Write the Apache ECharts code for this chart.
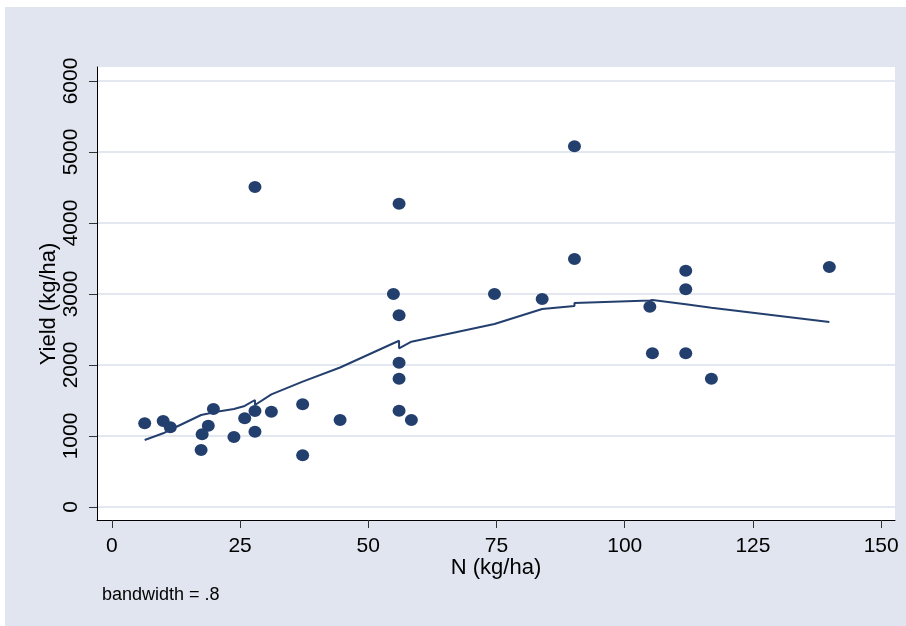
<!DOCTYPE html>
<html>
<head>
<meta charset="utf-8">
<script src="https://cdn.jsdelivr.net/npm/echarts@6/dist/echarts.min.js"></script>
<style>
html, body { margin: 0; padding: 0; background: #fff; }
#chart { width: 906px; height: 626px; }
</style>
</head>
<body>
<div id="chart"></div>
<script>
// observed points: N applied (kg/ha) and yield (kg/ha)
var nApplied = [6.4, 10.0, 11.4, 17.4, 17.6, 18.8, 19.8, 23.8, 25.9, 27.9, 27.9, 27.9, 31.1, 37.2, 37.2, 44.5,
	54.9, 56.0, 56.0, 56.0, 56.0, 56.0, 58.4, 74.6, 83.9, 90.2, 90.2, 104.9, 105.4, 111.9, 111.9, 111.9, 116.9, 139.9];
var yieldObs = [1179, 1211, 1123, 803, 1024, 1145, 1380, 986, 1249, 1352, 1061, 4507, 1342, 1446, 728, 1225,
	3000, 4272, 2700, 2032, 1807, 1356, 1225, 3000, 2930, 5080, 3493, 2821, 2165, 3328, 3066, 2165, 1807, 3380];

// lowess fitted values (bandwidth .8), read at each observation
var lowessN = [6.4, 10.0, 11.4, 17.4, 17.6, 18.8, 19.8, 23.8, 25.9, 27.9, 27.9, 31.1, 37.2, 44.5, 54.9,
	56.0, 56.0, 58.4, 74.6, 83.9, 90.2, 90.2, 104.9, 105.4, 111.9, 116.9, 139.9];
var lowessFit = [944, 1038, 1088, 1296, 1300, 1318, 1335, 1380, 1423, 1507, 1437, 1587, 1765, 1965, 2306,
	2342, 2235, 2328, 2577, 2789, 2831, 2873, 2908, 2915, 2854, 2807, 2606];

var xTicks = [0, 25, 50, 75, 100, 125, 150];
var yTicks = [0, 1000, 2000, 3000, 4000, 5000, 6000];

var navy = '#233f6e';
var font = '"Liberation Sans", Arial, sans-serif';

var scatterData = [];
for (var i = 0; i < nApplied.length; i++) {
	scatterData.push([nApplied[i], yieldObs[i]]);
}
var lineData = [];
for (var j = 0; j < lowessN.length; j++) {
	lineData.push([lowessN[j], lowessFit[j]]);
}

var myChart = echarts.init(document.getElementById('chart'), null, {renderer: 'canvas'});
var option = {
	backgroundColor: '#ffffff',
	animation: false,
	graphic: [{
		type: 'rect',
		z: -10,
		shape: {x: 5, y: 7, width: 901, height: 619},
		style: {fill: '#e0e5ef'}
	}, {
		type: 'rect',
		z: -9,
		shape: {x: 97, y: 67, width: 798, height: 453},
		style: {fill: '#ffffff'}
	}, {
		type: 'text',
		x: 496, y: 568,
		style: {text: 'N (kg/ha)', font: '22px ' + font, fill: '#000', textAlign: 'center', textVerticalAlign: 'middle'}
	}, {
		type: 'text',
		x: 49, y: 304,
		rotation: Math.PI / 2,
		style: {text: 'Yield (kg/ha)', font: '22px ' + font, fill: '#000', textAlign: 'center', textVerticalAlign: 'middle'}
	}, {
		type: 'text',
		x: 102, y: 595,
		style: {text: 'bandwidth = .8', font: '18px ' + font, fill: '#000', textAlign: 'left', textVerticalAlign: 'middle'}
	}],
	grid: {left: 97, top: 67, right: 11, bottom: 106, containLabel: false},
	xAxis: {
		type: 'value',
		min: -2.9,
		max: 152.7,
		axisLine: {show: true, onZero: false, lineStyle: {color: '#000', width: 1}},
		axisTick: {show: true, length: 8, customValues: xTicks, lineStyle: {color: '#333'}},
		axisLabel: {customValues: xTicks, margin: 16, fontSize: 21, fontFamily: font, color: '#000'},
		splitLine: {show: false}
	},
	yAxis: {
		type: 'value',
		min: -183,
		max: 6197,
		axisLine: {show: true, onZero: false, lineStyle: {color: '#000', width: 1}},
		axisTick: {show: true, length: 8, customValues: yTicks, lineStyle: {color: '#333'}},
		axisLabel: {
			customValues: yTicks, rotate: 90, margin: 15, fontSize: 21, fontFamily: font, color: '#000',
			formatter: function(v) { return String(v); }
		},
		splitLine: {show: true, lineStyle: {color: '#e3e7f0', width: 2}}
	},
	series: [{
		type: 'scatter',
		data: scatterData,
		symbol: 'circle',
		symbolSize: [13, 12],
		itemStyle: {color: navy, opacity: 1},
		z: 3
	}, {
		type: 'line',
		data: lineData,
		showSymbol: false,
		symbol: 'none',
		lineStyle: {color: navy, width: 2},
		z: 4
	}]
};
myChart.setOption(option);
</script>
</body>
</html>
